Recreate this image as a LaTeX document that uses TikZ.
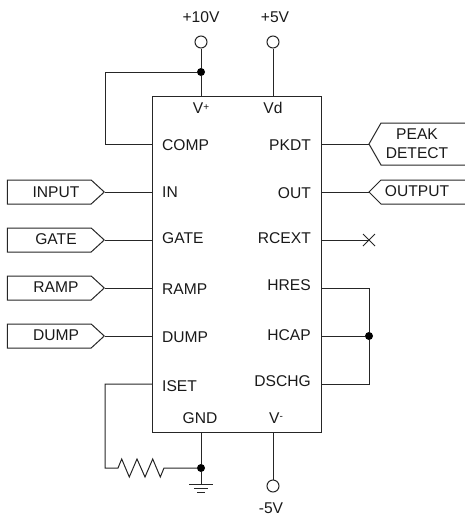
\documentclass[tikz,border=0pt]{standalone}
\usepackage{fontspec}
\setmainfont{Liberation Sans}
\usetikzlibrary{shapes.symbols}
\tikzset{
  wire/.style={line width=1pt,black!85},
  dot/.style={circle,fill=black,inner sep=0pt,minimum size=8pt},
  term/.style={circle,draw,line width=1pt,black!85,fill=white,inner sep=0pt,minimum size=12pt},
  pinlabel/.style={inner sep=0pt,text=black!90,font=\fontsize{15.6}{15.6}\selectfont},
  intag/.style={signal,signal to=east,draw,line width=1pt,black!85,inner sep=0pt,minimum width=97pt,minimum height=24pt,signal pointer angle=85},
}
\begin{document}
\begin{tikzpicture}[x=1pt,y=-1pt]
    \useasboundingbox (0,0) rectangle (464,517);
    % chip
    \node[draw,wire,inner sep=0pt,minimum width=169pt,minimum height=336pt] (chip) at (236.5,264) {};
    % left pins
    \foreach \pin/\lab/\y/\ly in {comp/COMP/144/145,in/IN/192/192,gate/GATE/240/238,ramp/RAMP/288/289,dump/DUMP/336/337,iset/ISET/384/386}{
        \coordinate (\pin) at (152.5,\y);
        \node[pinlabel,anchor=west] (\pin lab) at (162,\ly) {\lab};
    }
    % right pins
    \foreach \pin/\lab/\y/\ly in {pkdt/PKDT/144/145,out/OUT/192/193,rcext/RCEXT/240/238,hres/HRES/288/285,hcap/HCAP/336/335,dschg/DSCHG/384/381}{
        \coordinate (\pin) at (321,\y);
        \node[pinlabel,anchor=east] (\pin lab) at (311,\ly) {\lab};
    }
    % top and bottom pins
    \coordinate (vplus) at (201,96);
    \coordinate (vd) at (273,96);
    \coordinate (gnd) at (201,432);
    \coordinate (vminus) at (273,432);
    \node[pinlabel] (vpluslab) at (201,108) {V\raisebox{3pt}{\fontsize{10}{10}\selectfont +}};
    \node[pinlabel] (vdlab) at (273,108) {Vd};
    \node[pinlabel] (gndlab) at (200,418) {GND};
    \node[pinlabel] (vminuslab) at (276,418) {V\raisebox{4pt}{\fontsize{10}{10}\selectfont -}};
    % supplies
    \node[term] (tenv) at (201,42) {};
    \node[term] (fivev) at (273,42) {};
    \node[term] (minusfive) at (273,486) {};
    \node[pinlabel] (tenvlab) at (201,17) {+10V};
    \node[pinlabel] (fivevlab) at (275,17) {+5V};
    \node[pinlabel] (minusfivelab) at (271,508) {-5V};
    \node[dot] (topdot) at (201,72) {};
    \draw[wire] (tenv)--(topdot)--(vplus);
    \draw[wire] (fivev)--(vd);
    \draw[wire] (vminus)--(minusfive);
    \draw[wire] (topdot)-|(105,144)--(comp);
    % input tags
    \foreach \pin/\lab/\y/\ly in {in/INPUT/192/192,gate/GATE/240/239,ramp/RAMP/288/287,dump/DUMP/336/335}{
        \node[intag,anchor=east] (\pin tag) at (105,\y) {};
        \node[pinlabel] (\pin text) at (56,\ly) {\lab};
        \draw[wire] (\pin tag.east)--(\pin);
    }
    % output tags
    \coordinate (pktip) at (369,144);
    \coordinate (outtip) at (369,192);
    \draw[wire] (466,123)--(381,123)--(pktip)--(381,165)--(466,165);
    \draw[wire] (466,180)--(381,180)--(outtip)--(381,204)--(466,204);
    \node[pinlabel] (peaktext) at (417,134) {PEAK};
    \node[pinlabel] (detecttext) at (417,153) {DETECT};
    \node[pinlabel] (outputtext) at (417,191) {OUTPUT};
    \draw[wire] (pkdt)--(pktip);
    \draw[wire] (out)--(outtip);
    % no connect
    \coordinate (nc) at (369,240);
    \draw[wire] (rcext)--(nc);
    \draw[wire] (363,234)--(375,246);
    \draw[wire] (363,246)--(375,234);
    % hold network
    \node[dot] (holddot) at (369,336) {};
    \draw[wire] (hres)-|(holddot);
    \draw[wire] (hcap)--(holddot);
    \draw[wire] (dschg)-|(holddot);
    % resistor and ground
    \node[dot] (gnddot) at (201,468) {};
    \draw[wire] (gnd)--(gnddot)--(201,484);
    \draw[wire] (iset)-|(105,468)--(118,468)--(121.7,459)--(129.3,477)--(137,459)--(145,477)--(152.7,459)--(160.3,477)--(164,468)--(gnddot);
    \draw[wire] (189,484)--(213,484);
    \draw[wire] (194,488)--(208,488);
    \draw[wire] (197,492)--(205,492);
\end{tikzpicture}
\end{document}
